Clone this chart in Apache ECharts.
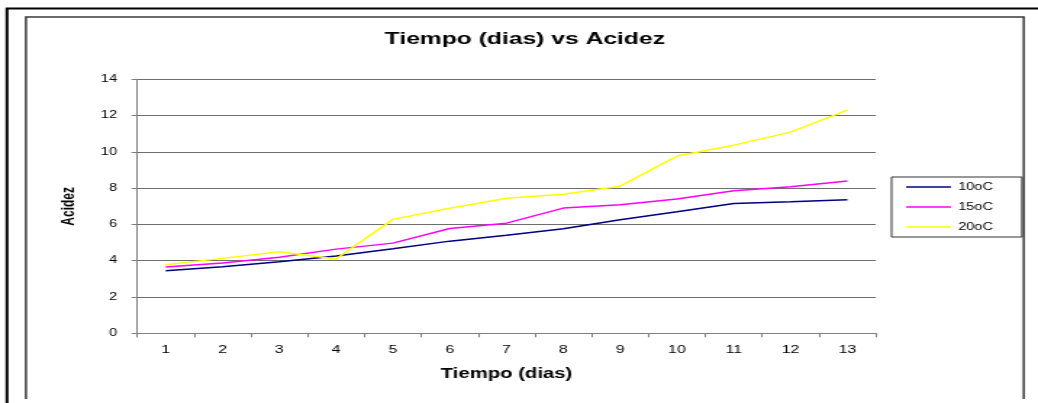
<!DOCTYPE html>
<html>
<head>
<meta charset="utf-8">
<script src="https://cdn.jsdelivr.net/npm/echarts@6/dist/echarts.min.js"></script>
<style>
  html, body { margin: 0; padding: 0; background: #fff; overflow: hidden; }
  /* the worksheet chart is drawn on a narrower canvas and widened horizontally */
  #chart { width: 716px; height: 403px; transform: scaleX(1.4497); transform-origin: 0 0; }
</style>
</head>
<body>
<div id="chart"></div>
<script>
// Days of the trial
const dias = ['1', '2', '3', '4', '5', '6', '7', '8', '9', '10', '11', '12', '13'];

// Acidity measured at each storage temperature
const acidez10 = [3.45, 3.67, 3.95, 4.26, 4.66, 5.08, 5.40, 5.76, 6.26, 6.70, 7.16, 7.25, 7.36];
const acidez15 = [3.65, 3.87, 4.19, 4.64, 4.97, 5.78, 6.07, 6.90, 7.09, 7.40, 7.86, 8.08, 8.39];
const acidez20 = [3.78, 4.13, 4.50, 4.09, 6.28, 6.89, 7.44, 7.67, 8.11, 9.77, 10.37, 11.09, 12.30];

const seriesNames = ['10oC', '15oC', '20oC'];
const yTicks = { min: 0, max: 14, interval: 2 };

const FONT = '"Liberation Sans", Arial, sans-serif';

// plain horizontal stroke used as the legend key
const LEGEND_LINE = 'path://M0,0 H31 V1.5 H0 Z';

const chart = echarts.init(document.getElementById('chart'), null, { renderer: 'canvas' });

const lineSeries = (name, data, color) => ({
  name: name,
  type: 'line',
  data: data,
  symbol: 'none',
  smooth: false,
  lineStyle: { color: color, width: 1.5 },
  itemStyle: { color: color },
  emphasis: { disabled: true }
});

chart.setOption({
  animation: false,
  backgroundColor: '#ffffff',
  title: {
    text: 'Tiempo (dias) vs Acidez',
    left: 357,
    top: 26,
    textAlign: 'center',
    textStyle: { fontFamily: FONT, fontSize: 17, fontWeight: 'bold', color: '#000' }
  },
  legend: {
    data: seriesNames,
    orient: 'vertical',
    left: 615,
    top: 177,
    padding: [5, 20, 5, 10],
    icon: LEGEND_LINE,
    itemWidth: 31,
    itemHeight: 10,
    itemGap: 10,
    borderColor: '#333',
    borderWidth: 1,
    textStyle: { fontFamily: FONT, fontSize: 10, color: '#000' }
  },
  grid: { left: 94.7, top: 79.3, width: 509.4, height: 254, containLabel: false },
  xAxis: {
    type: 'category',
    data: dias,
    boundaryGap: true,
    name: 'Tiempo (dias)',
    nameLocation: 'middle',
    nameGap: 34,
    nameTextStyle: { fontFamily: FONT, fontSize: 14, fontWeight: 'bold', color: '#000' },
    axisLine: { lineStyle: { color: '#808080', width: 1 } },
    axisTick: { show: true, length: 4, inside: false, lineStyle: { color: '#808080' } },
    axisLabel: { margin: 11, fontFamily: FONT, fontSize: 11, color: '#000' },
    splitLine: { show: false }
  },
  yAxis: {
    type: 'value',
    min: yTicks.min,
    max: yTicks.max,
    interval: yTicks.interval,
    name: 'Acidez',
    nameLocation: 'middle',
    nameRotate: 90,
    nameGap: 41,
    nameTextStyle: { fontFamily: FONT, fontSize: 12, fontWeight: 'bold', color: '#000', padding: [0, 0, 0, 0] },
    axisLine: { show: true, lineStyle: { color: '#808080', width: 1 } },
    axisTick: { show: true, length: 4, lineStyle: { color: '#808080' } },
    axisLabel: { margin: 14, fontFamily: FONT, fontSize: 10, color: '#000' },
    splitLine: { show: true, lineStyle: { color: '#6e6e6e', width: 1 } }
  },
  graphic: [
    // outer page frame
    {
      type: 'polyline',
      silent: true,
      shape: { points: [[4.8, 410], [4.8, 8.5], [720, 8.5]] },
      style: { stroke: '#000', lineWidth: 2, fill: null }
    },
    // chart area frame
    {
      type: 'polyline',
      silent: true,
      shape: { points: [[17.9, 399], [17.9, 17], [706.2, 17], [706.2, 399]] },
      style: { stroke: '#3a3a3a', lineWidth: 1.5, fill: null }
    }
  ],
  series: [
    lineSeries(seriesNames[0], acidez10, '#000080'),
    lineSeries(seriesNames[1], acidez15, '#ff00ff'),
    lineSeries(seriesNames[2], acidez20, '#ffff00')
  ]
});
</script>
</body>
</html>
